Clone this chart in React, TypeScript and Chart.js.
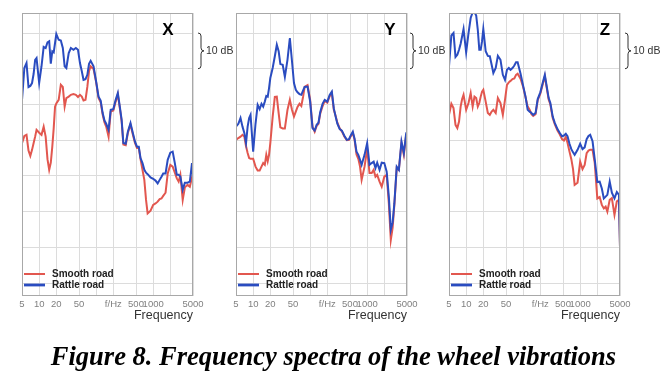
import React, { useEffect, useRef } from "react";
import { Chart, registerables } from "chart.js";

Chart.register(...registerables);

// ---------- data ----------
const FREQ = [
  5, 5.5, 6, 6.5, 7, 7.5, 8, 8.5, 9,
  10, 11, 12, 13, 14, 15, 16, 17, 18, 19, 20,
  22, 24, 26, 28, 30, 33, 36, 40, 44, 48,
  52, 56, 60, 65, 70, 75, 80, 90, 100,
  110, 120, 130, 140, 150, 165, 180, 200, 220, 240, 260, 280, 300, 330, 360, 400, 440, 480,
  520, 560, 600, 650, 700, 750, 800, 900, 1000,
  1100, 1200, 1300, 1400, 1500, 1650, 1800, 2000, 2200, 2400, 2600, 2800, 3000, 3300, 3600, 4000, 4400, 4800, 5000,
];

const X_RATTLE = [
  61.3, 70.2, 71.6, 64.9, 65.2, 66.0, 68.6, 72.5, 73.0,
  66.0, 70.7, 76.1, 75.8, 77.4, 77.7, 71.4, 74.9, 74.6, 77.2, 79.7,
  78.1, 77.9, 75.8, 70.7, 70.2, 74.4, 75.8, 75.3, 75.8, 75.3,
  71.6, 69.3, 66.9, 67.1, 68.3, 71.4, 72.2, 70.7, 66.4,
  62.2, 61.1, 57.6, 55.5, 54.6, 52.9, 58.5, 58.7, 61.3, 63.2, 59.4, 55.7, 49.2, 49.0, 52.4, 54.8, 52.0, 49.6,
  48.2, 48.2, 45.0, 43.6, 41.7, 40.9, 40.5, 39.6, 39.2,
  38.7, 37.9, 38.9, 39.8, 40.7, 40.7, 44.5, 46.5, 46.8, 43.6, 40.3, 40.3, 39.8, 36.1, 38.1, 38.1, 38.4, 43.6, 39.8,
];
const X_SMOOTH = [
  49.2, 51.2, 51.5, 47.1, 45.6, 47.3, 49.2, 51.0, 52.9,
  52.1, 51.5, 53.8, 51.0, 44.7, 41.7, 43.7, 48.2, 53.4, 59.4, 60.3,
  61.3, 65.5, 64.9, 59.4, 61.8, 62.2, 62.7, 62.9, 62.7, 62.1,
  62.7, 62.2, 61.1, 61.3, 64.9, 69.3, 70.7, 69.9, 66.2,
  61.8, 60.6, 57.2, 55.0, 53.8, 51.0, 58.0, 58.3, 60.8, 62.8, 59.0, 55.3, 48.8, 48.6, 52.0, 54.4, 51.6, 49.2,
  47.8, 47.8, 44.7, 41.7, 38.9, 33.3, 29.5, 30.3, 31.9,
  32.3, 32.8, 33.5, 33.7, 34.4, 35.3, 40.7, 43.1, 42.6, 40.9, 39.3, 38.4, 40.3, 33.3, 36.8, 37.5, 37.0, 39.6, 40.3,
];

const Y_RATTLE = [
  53.8, 54.6, 56.2, 53.8, 52.0, 49.2, 53.8, 56.2, 57.1,
  46.8, 54.6, 59.9, 58.7, 60.2, 59.4, 60.8, 62.4, 62.2, 64.6, 67.4,
  70.2, 73.5, 76.7, 74.9, 71.3, 71.1, 67.7, 72.5, 78.6, 72.1,
  66.0, 64.1, 63.4, 62.9, 62.7, 63.9, 64.9, 65.0, 60.8,
  53.4, 52.7, 54.3, 54.9, 57.8, 60.2, 61.3, 60.8, 62.7, 63.6, 58.9, 56.6, 54.6, 53.1, 52.7, 51.2, 50.1, 50.3,
  51.5, 52.4, 50.5, 46.8, 45.9, 44.5, 43.1, 45.9, 49.2,
  43.1, 43.6, 44.0, 42.2, 43.7, 41.7, 43.7, 43.6, 41.2, 34.2, 24.9, 27.0, 32.3, 42.6, 41.7, 49.6, 46.4, 51.5, 51.0,
];
const Y_SMOOTH = [
  50.1, 50.6, 51.0, 51.5, 51.0, 48.3, 46.4, 45.0, 44.8,
  44.8, 42.6, 41.5, 41.5, 42.6, 43.6, 43.1, 45.9, 44.1, 45.9, 49.2,
  56.6, 62.1, 62.2, 57.6, 53.6, 53.3, 53.3, 58.5, 61.3, 58.5,
  56.6, 58.0, 59.3, 60.2, 59.6, 62.1, 64.9, 65.4, 61.3,
  53.8, 52.4, 54.0, 54.6, 57.4, 59.5, 61.0, 60.5, 62.3, 63.2, 58.5, 56.8, 54.9, 53.3, 52.5, 51.0, 50.0, 50.1,
  51.2, 52.0, 50.2, 46.0, 44.8, 42.6, 38.9, 42.6, 47.5,
  40.8, 40.8, 41.7, 39.8, 40.3, 38.4, 37.0, 39.8, 40.3, 32.3, 22.1, 25.5, 31.9, 42.2, 41.7, 49.2, 45.9, 51.0, 50.6,
];

const Z_RATTLE = [
  70.7, 79.3, 80.0, 73.3, 73.9, 75.3, 77.0, 79.1, 81.1,
  74.6, 80.0, 84.2, 85.8, 85.8, 84.9, 80.9, 75.3, 75.3, 77.7, 81.1,
  74.9, 73.6, 73.5, 71.1, 68.8, 70.2, 73.6, 72.5, 68.3, 66.9,
  69.7, 70.2, 69.7, 70.2, 70.9, 71.8, 71.8, 68.6, 65.2,
  62.2, 58.5, 58.0, 57.6, 57.1, 57.6, 61.5, 63.4, 66.0, 68.3, 64.9, 61.8, 60.4, 56.6, 54.8, 53.1, 52.0, 51.1,
  51.3, 51.8, 51.1, 49.0, 47.5, 46.6, 45.9, 47.3, 49.0,
  47.5, 48.0, 50.3, 51.2, 51.5, 49.7, 44.7, 38.3, 38.4, 36.5, 33.7, 34.2, 34.7, 38.4, 35.3, 33.7, 35.5, 34.7, 20.2,
];
const Z_SMOOTH = [
  57.1, 60.2, 59.0, 54.3, 53.4, 55.2, 59.4, 61.5, 62.7,
  58.5, 60.4, 63.2, 59.4, 62.2, 61.8, 59.4, 60.4, 62.2, 63.6, 64.1,
  60.8, 57.6, 57.1, 58.0, 58.5, 57.6, 61.8, 60.4, 57.1, 61.3,
  65.5, 66.2, 66.6, 67.1, 67.3, 68.3, 68.6, 67.2, 64.9,
  62.0, 59.4, 58.5, 57.3, 56.8, 57.3, 61.2, 63.0, 65.6, 67.9, 64.5, 61.4, 60.0, 56.2, 54.4, 52.7, 51.6, 50.3,
  49.9, 50.9, 49.3, 46.8, 44.7, 41.9, 37.5, 38.1, 44.0,
  41.9, 43.1, 46.4, 47.1, 47.3, 47.3, 43.7, 33.7, 34.1, 31.9, 30.9, 31.4, 30.0, 33.3, 33.8, 29.1, 32.9, 33.3, 20.2,
];

const X_TICKS = [5, 10, 20, 50, 100, 200, 500, 1000, 2000, 5000];
const X_TICK_LABELS = ["5", "10", "20", "50", "", "f/Hz", "500", "1000", "", "5000"];
const DB_GRID = [10, 20, 30, 40, 50, 60, 70, 80];
const DB_MIN = 6.4;
const DB_MAX = 85.6;
const BRACKET_DB = [70, 80];
const SERIES_NAMES = ["Smooth road", "Rattle road"];
const SERIES_COLORS = ["#e2574f", "#2a4cc0"];
const PANEL_NAMES = ["X", "Y", "Z"];
const X_TITLE = "Frequency";
const BRACKET_LABEL = "10 dB";
const CAPTION = "Figure 8. Frequency spectra of the wheel vibrations";

// ---------- layout ----------
const W = 667;
const H = 330;
const PANEL_LAYOUT = [
  { left: 22, right: 193, letterOff: 25, bracketGap: 5 },
  { left: 236, right: 407, letterOff: 17, bracketGap: 3 },
  { left: 449, right: 620, letterOff: 15, bracketGap: 5 },
];

const SANS = "'Liberation Sans', Arial, sans-serif";

const decoPlugin = {
  id: "deco",
  afterDraw(chart: any, _args: any, opts: any) {
    const { ctx, chartArea: a, scales } = chart;
    const ys = scales.y;
    ctx.save();
    // frame
    ctx.strokeStyle = "#a8a8a8";
    ctx.lineWidth = 1;
    ctx.strokeRect(Math.round(a.left) + 0.5, Math.round(a.top) + 0.5, Math.round(a.right - a.left) - 1, Math.round(a.bottom - a.top) - 1);

    // legend
    const ds = chart.data.datasets;
    ctx.font = `bold 10px ${SANS}`;
    ctx.textBaseline = "middle";
    ctx.textAlign = "left";
    ds.forEach((d: any, i: number) => {
      const yy = a.bottom - 22 + i * 11;
      ctx.strokeStyle = d.borderColor;
      ctx.lineWidth = i === 0 ? 2 : 2.8;
      ctx.beginPath();
      ctx.moveTo(a.left + 2, yy);
      ctx.lineTo(a.left + 23, yy);
      ctx.stroke();
      ctx.fillStyle = "#222";
      ctx.fillText(d.label, a.left + 30, yy + 0.5);
    });

    // panel letter
    ctx.font = `bold 17px ${SANS}`;
    ctx.fillStyle = "#000";
    ctx.textAlign = "center";
    ctx.fillText(opts.letter, a.right - opts.letterOff, a.top + 17);

    // 10 dB bracket
    const yT = ys.getPixelForValue(BRACKET_DB[1]);
    const yB = ys.getPixelForValue(BRACKET_DB[0]);
    const ym = (yT + yB) / 2;
    const bx = a.right + opts.bracketGap;
    ctx.strokeStyle = "#333";
    ctx.lineWidth = 1;
    ctx.beginPath();
    ctx.moveTo(bx, yT);
    ctx.quadraticCurveTo(bx + 3, yT, bx + 3, yT + 3);
    ctx.lineTo(bx + 3, ym - 3);
    ctx.quadraticCurveTo(bx + 3, ym, bx + 6, ym);
    ctx.quadraticCurveTo(bx + 3, ym, bx + 3, ym + 3);
    ctx.lineTo(bx + 3, yB - 3);
    ctx.quadraticCurveTo(bx + 3, yB, bx, yB);
    ctx.stroke();
    ctx.font = `10.5px ${SANS}`;
    ctx.fillStyle = "#333";
    ctx.textAlign = "left";
    ctx.fillText(BRACKET_LABEL, bx + 8, ym);
    ctx.restore();
  },
};

function Panel({ idx, smooth, rattle }: { idx: number; smooth: number[]; rattle: number[] }) {
  const ref = useRef<HTMLCanvasElement | null>(null);
  useEffect(() => {
    if (!ref.current) return;
    const lay = PANEL_LAYOUT[idx];
    const series = [smooth, rattle];
    const chart = new Chart(ref.current, {
      type: "line",
      data: {
        datasets: series.map((vals, s) => ({
          label: SERIES_NAMES[s],
          data: FREQ.map((f, i) => ({ x: f, y: vals[i] })),
          borderColor: SERIES_COLORS[s],
          backgroundColor: SERIES_COLORS[s],
          borderWidth: 2,
          pointRadius: 0,
          tension: 0,
          order: s === 0 ? 2 : 1,
        })),
      },
      options: {
        responsive: false,
        animation: false,
        events: [],
        layout: { padding: { left: lay.left, right: W - lay.right, top: 13, bottom: 0 } },
        plugins: {
          legend: { display: false },
          tooltip: { enabled: false },
          deco: { letter: PANEL_NAMES[idx], letterOff: lay.letterOff, bracketGap: lay.bracketGap },
        } as any,
        scales: {
          x: {
            type: "logarithmic",
            min: 5,
            max: 5000,
            afterBuildTicks: (scale: any) => {
              scale.ticks = X_TICKS.map((v) => ({ value: v }));
            },
            afterFit: (scale: any) => {
              scale.height = 34;
            },
            grid: { color: "#dcdcdc", drawTicks: false, lineWidth: 1 },
            border: { display: false },
            ticks: {
              autoSkip: false,
              maxRotation: 0,
              padding: 3,
              color: "#808080",
              font: { size: 9.5, family: SANS },
              callback: (_v: any, i: number) => X_TICK_LABELS[i],
            },
            title: {
              display: true,
              text: X_TITLE,
              align: "end",
              color: "#333",
              font: { size: 12.5, family: SANS },
              padding: { top: 0, bottom: 7 },
            },
          },
          y: {
            type: "linear",
            min: DB_MIN,
            max: DB_MAX,
            afterBuildTicks: (scale: any) => {
              scale.ticks = DB_GRID.map((v) => ({ value: v }));
            },
            afterFit: (scale: any) => {
              scale.width = 0;
            },
            grid: { color: "#dcdcdc", drawTicks: false },
            border: { display: false },
            ticks: { display: false },
          },
        },
      } as any,
      plugins: [decoPlugin],
    });
    return () => chart.destroy();
  }, [idx, smooth, rattle]);
  return (
    <canvas
      ref={ref}
      width={W}
      height={H}
      style={{ position: "absolute", left: 0, top: 0, width: W, height: H }}
    />
  );
}

export default function App() {
  const panels = [
    [X_SMOOTH, X_RATTLE],
    [Y_SMOOTH, Y_RATTLE],
    [Z_SMOOTH, Z_RATTLE],
  ];
  return (
    <div style={{ position: "absolute", left: 0, top: 0, width: W, height: 390, background: "#fff", overflow: "hidden" }}>
      {panels.map((p, i) => (
        <Panel key={i} idx={i} smooth={p[0]} rattle={p[1]} />
      ))}
      <div
        style={{
          position: "absolute",
          left: 0,
          top: 341,
          width: W,
          textAlign: "center",
          fontFamily: "'Liberation Serif', 'Times New Roman', serif",
          fontWeight: "bold",
          fontStyle: "italic",
          fontSize: 26.5,
          lineHeight: "30px",
          color: "#000",
          whiteSpace: "nowrap",
        }}
      >
        {CAPTION}
      </div>
    </div>
  );
}
